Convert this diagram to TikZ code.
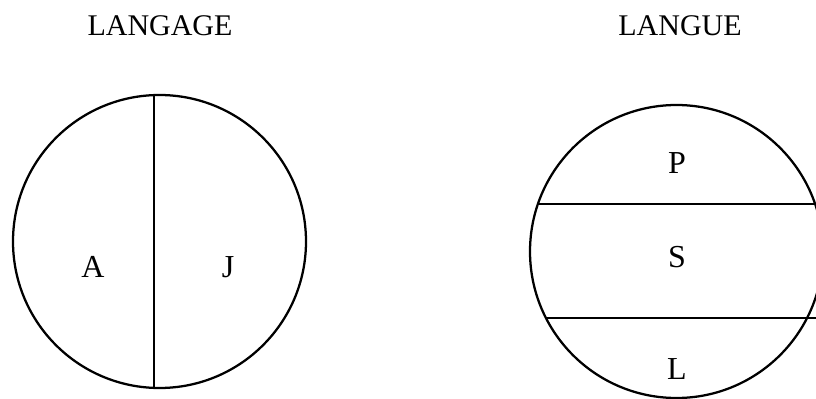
\documentclass[tikz,border=0pt]{standalone}
\usepackage{fontspec}
\setmainfont{Liberation Serif}
\usetikzlibrary{calc}

\begin{document}
\begin{tikzpicture}[
    x=0.75pt, y=-0.75pt,
    ring/.style={circle, draw=black, line width=1.7pt, minimum size=219.75pt, inner sep=0pt, outer sep=0pt},
    heading/.style={anchor=base, font=\fontsize{22.5}{26}\selectfont},
    letter/.style={anchor=base, font=\fontsize{24}{28}\selectfont},
    rule/.style={line width=1.7pt}
]
\useasboundingbox (0,0) rectangle (816,399);
\clip (0,0) rectangle (816,399);

% titles
\node[heading] (langage) at (160,36) {LANGAGE};
\node[heading] (langue) at (680,36) {LANGUE};

% the two circles
\node[ring] (left) at (159.5,241.5) {};
\node[ring] (right) at (676.5,251.5) {};
\coordinate (edge) at (816,0);

% left circle: two halves
\draw[rule] ($(left.north)+(-5.5,0)$) -- ($(left.south)+(-5.5,0)$);
\node[letter] (a) at (93,277.5) {A};
\node[letter] (j) at (228,277.5) {J};

% right circle: three bands
\draw[rule] (right.161.08) -- (right.161.08 -| edge);
\draw[rule] (right.207.1) -- (right.207.1 -| edge);
\node[letter] (p) at (677,173) {P};
\node[letter] (s) at (677,267.5) {S};
\node[letter] (l) at (677,379) {L};
\end{tikzpicture}
\end{document}
